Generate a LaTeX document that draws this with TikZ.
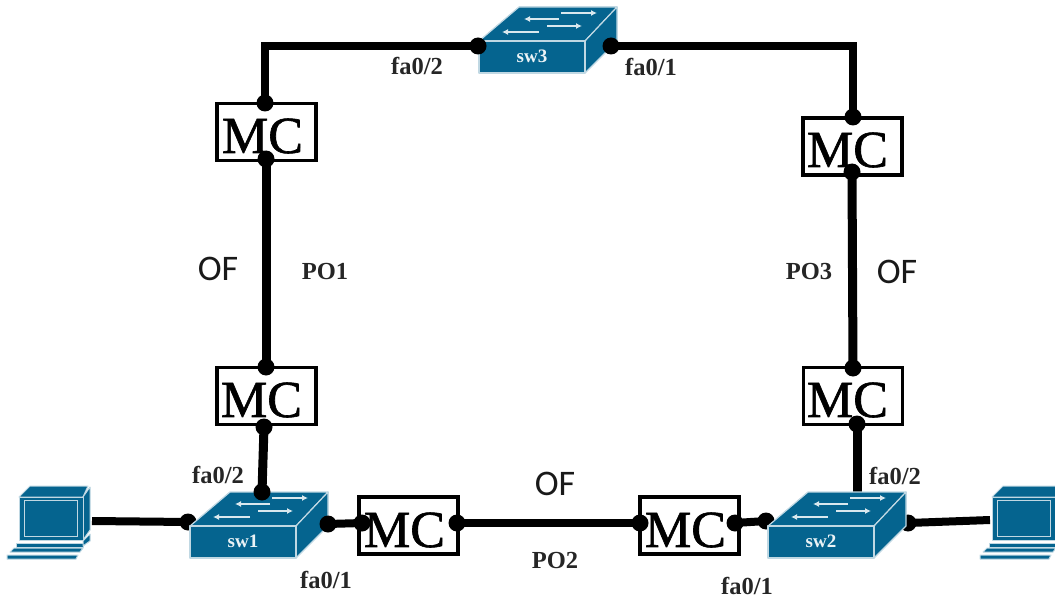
\documentclass[tikz,border=0pt]{standalone}
\usepackage{fontspec}
\setmainfont{Liberation Serif}
\newfontfamily\ofont{Carlito}
\newfontfamily\mcfont[FakeBold=1.2]{Liberation Serif}
\usetikzlibrary{arrows.meta}
\definecolor{swblue}{HTML}{05648F}
\tikzset{
  wire/.style={line width=8pt,black},
  vwire/.style={line width=9pt,black},
  mc/.style={draw=black,line width=3.6pt,fill=white,minimum width=99pt,minimum height=57pt,inner sep=0pt},
  mctext/.style={font=\mcfont\fontsize{52}{52}\selectfont,text=black,inner sep=0pt},
  lbl/.style={font=\fontsize{24.5}{26}\selectfont\bfseries,text=black!85,inner sep=0pt},
  oflbl/.style={font=\ofont\fontsize{36}{37}\selectfont,text=black!90,inner sep=0pt},
  swlbl/.style={font=\fontsize{19}{20}\selectfont\bfseries,text=white!92!swblue,inner sep=0pt},
  swface/.style={fill=swblue,draw=white!75!swblue,line width=1.2pt,line join=round},
  swarrow/.style={draw=white!85!swblue,line width=1.6pt,-{Latex[length=6pt,width=6pt]}},
  pcline/.style={fill=swblue,draw=white!75!swblue,line width=1pt,line join=round},
  dot/.style={circle,fill=black,inner sep=0pt,minimum size=17pt},
}
\newcommand{\switchbody}[3]{%
  \begin{scope}[shift={(#1)}]
    \fill[swblue] (0,32) -- (106,32) -- (138,0) -- (138,-34) -- (40,-34) -- (0,0) -- cycle;
    \draw[swface] (0,0) -- (40,-34) -- (138,-34) -- (106,0) -- cycle;
    \draw[swface] (106,0) -- (138,-34) -- (138,0) -- (106,32) -- cycle;
    \draw[swface] (0,0) rectangle (106,32);
    \draw[swarrow] (82,-28) -- (118,-28);
    \draw[swarrow] (80,-22) -- (45,-22);
    \draw[swarrow] (68,-15) -- (103,-15);
    \draw[swarrow] (60,-9) -- (23,-9);
    \node[swlbl] (#2) at (53,15) {#3};
  \end{scope}}
\newcommand{\pcbody}[1]{%
  \begin{scope}[shift={(#1)}]
    \draw[pcline] (19,497) -- (30,486) -- (88,486) -- (83,497) -- cycle;
    \draw[pcline] (83,497) -- (90,487) -- (90,530) -- (83,540) -- cycle;
    \draw[pcline] (19,497) rectangle (83,540);
    \fill[swblue] (26,502) rectangle (75,534);
    \draw[white!75!swblue,line width=1pt] (24,500) rectangle (77,536);
    \draw[pcline] (16,543) rectangle (83,547);
    \draw[pcline] (14,548) -- (83,548) -- (80,552) -- (10,552) -- cycle;
    \draw[pcline] (7,555) -- (78,555) -- (76,559) -- (7,559) -- cycle;
    \draw[pcline] (83,541) -- (90,534) -- (90,541) -- (83,546) -- cycle;
  \end{scope}}
\begin{document}
\begin{tikzpicture}[x=1pt,y=-1pt]
\useasboundingbox[fill=white] (0,0) rectangle (1055,599);
% connection points
\coordinate (a1) at (265,103);
\coordinate (a2) at (266,159);
\coordinate (a3) at (266,367);
\coordinate (a4) at (264,427);
\coordinate (s1n) at (262,492);
\coordinate (s1e) at (328,524);
\coordinate (s1w) at (188,522);
\coordinate (pc1e) at (92,521);
\coordinate (s3w) at (478,46);
\coordinate (s3e) at (611,46);
\coordinate (b1) at (853,117);
\coordinate (b2) at (852,172);
\coordinate (b3) at (853,368);
\coordinate (b4) at (857,424);
\coordinate (s2n) at (857,492);
\coordinate (s2w) at (766,521);
\coordinate (s2e) at (908,523);
\coordinate (pc2w) at (990,520);
\coordinate (c1) at (362,523);
\coordinate (c2) at (457,523);
\coordinate (c3) at (640,523);
\coordinate (c4) at (735,523);
% wires
\draw[wire] (s3w) -- (265,46) -- (a1);
\draw[wire] (s3e) -- (853,46) -- (b1);
\draw[vwire] (a2) -- (a3);
\draw[vwire] (b2) -- (b3);
\draw[vwire] (a4) -- (s1n);
\draw[vwire] (b4) -- (s2n);
\draw[wire] (s1e) -- (c1);
\draw[wire] (c2) -- (c3);
\draw[wire] (c4) -- (s2w);
\draw[wire] (pc1e) -- (s1w);
\draw[wire] (s2e) -- (pc2w);
% half-hidden end dots
\node[dot] at (s1w) {};
\node[dot] at (s2w) {};
\node[dot] at (s2e) {};
% media converters
\node[mc] (m1) at (266.5,132) {};
\node[mc] (m2) at (266.5,396) {};
\node[mc] (m3) at (852.5,146.5) {};
\node[mc] (m4) at (853,396) {};
\node[mc] (m5) at (408.5,525.5) {};
\node[mc] (m6) at (689.5,525.5) {};
\node[mctext] (t1) at (262.5,136) {MC};
\node[mctext] (t2) at (261.5,400) {MC};
\node[mctext] (t3) at (847.5,150) {MC};
\node[mctext] (t4) at (847.5,400) {MC};
\node[mctext] (t5) at (404.5,530) {MC};
\node[mctext] (t6) at (685.5,530) {MC};
% switches and computers
\switchbody{190,526}{sw1}{sw1}
\switchbody{768,526}{sw2}{sw2}
\switchbody{479,41}{sw3}{sw3}
\pcbody{0,0}
\pcbody{973,0}
% dots
\foreach \p in {a1,a2,a3,a4,s1n,s1e,s3w,s3e,b1,b2,b3,b4,c1,c2,c3,c4}{\node[dot] at (\p) {};}
% labels
\node[lbl] (l1) at (417,66) {fa0/2};
\node[lbl] (l2) at (651,67) {fa0/1};
\node[oflbl] (l3) at (218,269) {OF};
\node[lbl] (l4) at (325,272) {PO1};
\node[lbl] (l5) at (809,272) {PO3};
\node[oflbl] (l6) at (897,272) {OF};
\node[lbl] (l7) at (218,475) {fa0/2};
\node[lbl] (l8) at (326,580) {fa0/1};
\node[oflbl] (l9) at (555,484) {OF};
\node[lbl] (l10) at (555,561) {PO2};
\node[lbl] (l11) at (747,586) {fa0/1};
\node[lbl] (l12) at (895,476) {fa0/2};
\end{tikzpicture}
\end{document}
